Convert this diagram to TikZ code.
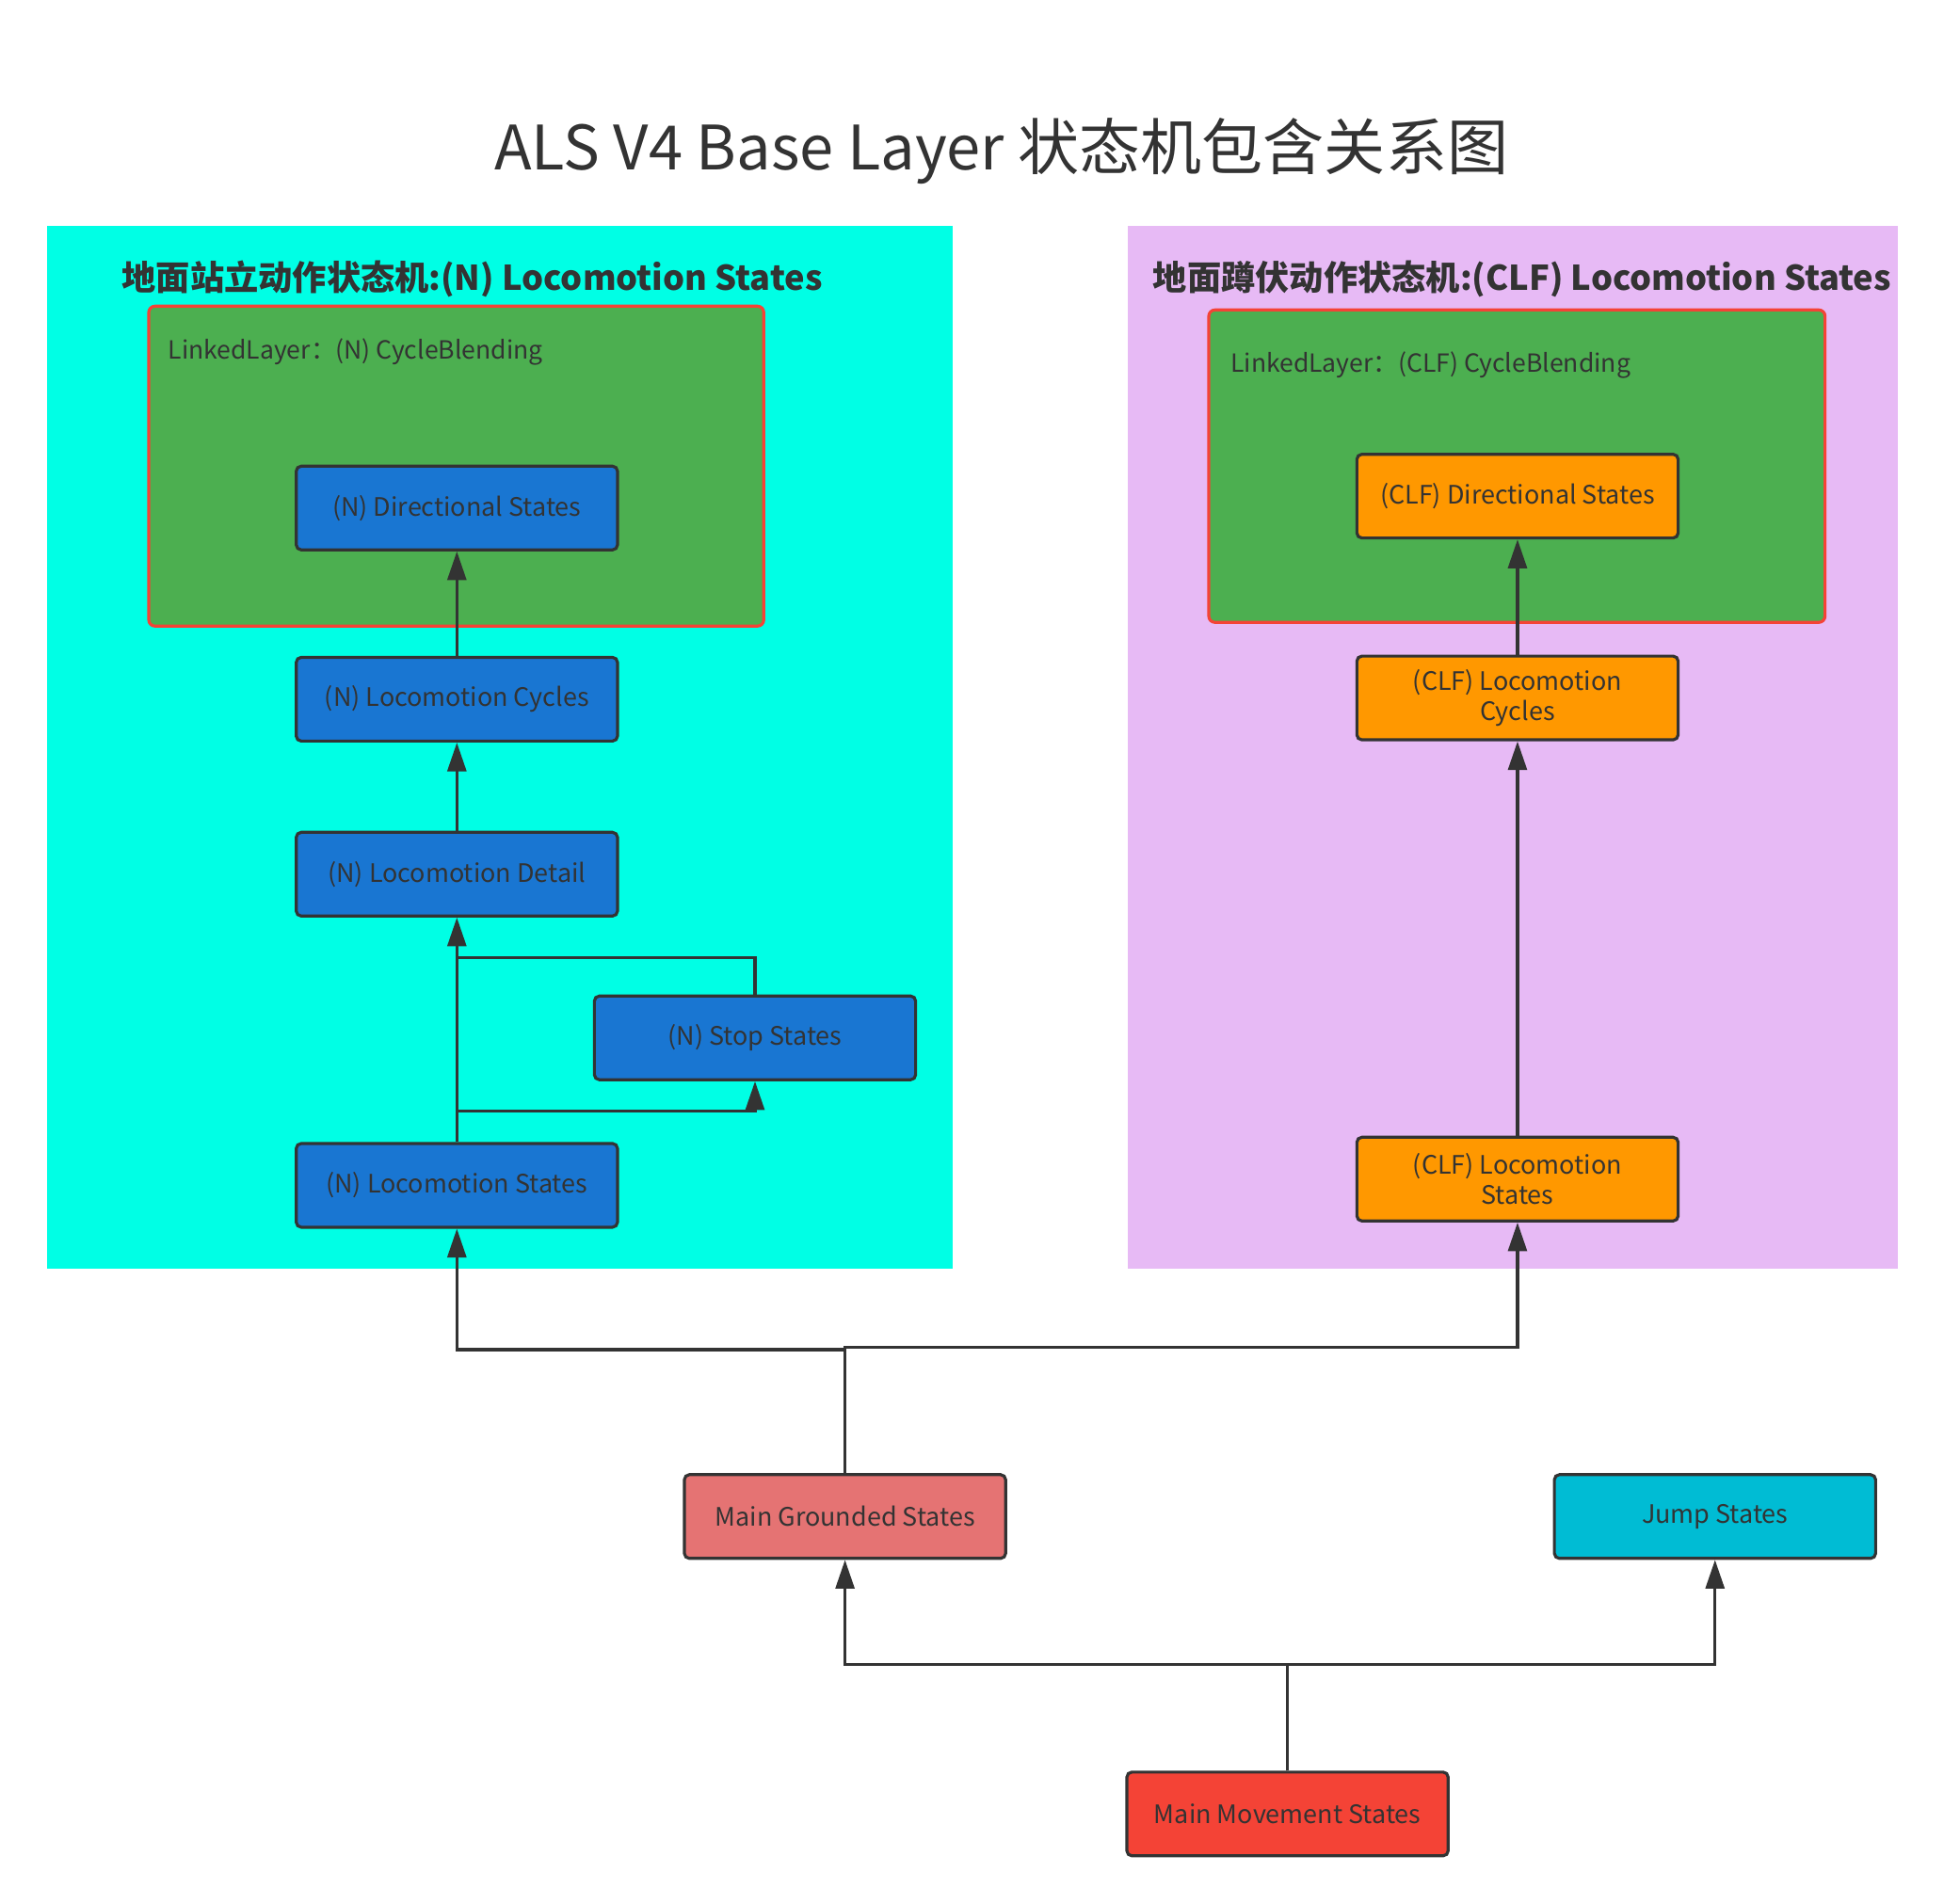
\documentclass[tikz,border=0pt]{standalone}
\usepackage{fontspec}
\setmainfont{Noto Sans CJK SC}
\usetikzlibrary{arrows.meta,positioning}

\definecolor{ink}{HTML}{333333}
\definecolor{aquabg}{RGB}{0,255,229}
\definecolor{lilacbg}{RGB}{231,186,245}
\definecolor{layergreen}{HTML}{4CAF50}
\definecolor{layerred}{HTML}{F44336}
\definecolor{stateblue}{HTML}{1976D2}
\definecolor{stateorange}{HTML}{FF9800}
\definecolor{groundpink}{HTML}{E57373}
\definecolor{jumpcyan}{HTML}{00BCD4}
\definecolor{movered}{HTML}{F44336}

\begin{document}
\begin{tikzpicture}[x=1pt,y=-1pt]

\tikzset{state/.style = {shape=rectangle,draw=ink,line width=2.4pt,rounded corners=4pt,
  minimum width=257pt,minimum height=67pt,inner sep=2pt,align=center,text=ink,
  font=\fontsize{20.3}{24}\selectfont}}
\tikzset{edge/.style = {-{Triangle[length=23pt,width=15pt]},draw=ink,line width=2.4pt}}
\tikzset{plain/.style = {draw=ink,line width=2.4pt}}
\tikzset{layer/.style = {draw=layerred,line width=2.4pt,fill=layergreen,rounded corners=5pt}}

\useasboundingbox (0,0) rectangle (1568,1523);
\fill[white] (0,0) rectangle (1568,1523);

% title
\node[text=ink,font=\fontsize{49}{56}\selectfont] (title) at (801,121) {ALS V4 Base Layer 状态机包含关系图};

% rectangle
\fill[aquabg] (38,181) rectangle (762,1015);
\fill[lilacbg] (902,181) rectangle (1518,1015);
\draw[layer] (119,245) rectangle (611,501);
\draw[layer] (967,248) rectangle (1460,498);

\node[anchor=west,text=ink,font=\bfseries\fontsize{27.3}{31}\selectfont] (ntitle) at (94,223) {地面站立动作状态机:(N) Locomotion States};
\node[anchor=west,text=ink,font=\bfseries\fontsize{27.3}{31}\selectfont] (ctitle) at (919,223) {地面蹲伏动作状态机:(CLF) Locomotion States};
\node[anchor=west,text=ink,font=\fontsize{20}{24}\selectfont] (nlink) at (131,282) {LinkedLayer：(N) CycleBlending};
\node[anchor=west,text=ink,font=\fontsize{20}{24}\selectfont] (clink) at (981,292) {LinkedLayer：(CLF) CycleBlending};

% vertices
\node[state,fill=stateblue] (ndir) at (365.5,406.5) {(N) Directional States};
\node[state,fill=stateblue] (ncyc) at (365.5,559.5) {(N) Locomotion Cycles};
\node[state,fill=stateblue] (ndet) at (365.5,699.5) {(N) Locomotion Detail};
\node[state,fill=stateblue] (nstop) at (604,830.5) {(N) Stop States};
\node[state,fill=stateblue] (nloc) at (365.5,948.5) {(N) Locomotion States};

\node[state,fill=stateorange] (cdir) at (1214,397) {(CLF) Directional States};
\node[state,fill=stateorange] (ccyc) at (1214,558.5) {(CLF) Locomotion\\Cycles};
\node[state,fill=stateorange] (cloc) at (1214,943.5) {(CLF) Locomotion\\States};

\node[state,fill=groundpink] (ground) at (676,1213.5) {Main Grounded States};
\node[state,fill=jumpcyan] (jump) at (1372,1213.5) {Jump States};
\node[state,fill=movered] (move) at (1030,1451.5) {Main Movement States};

%edges
\draw[edge] (ncyc) to (ndir);
\draw[edge] (ndet) to (ncyc);
\draw[edge] (nloc) to (ndet);
\draw[edge] (nloc.north) -- (nloc.north |- 0,889) -| (nstop.south);
\draw[plain] (nstop.north) |- (ndet.south |- 0,766);

\draw[edge] (cloc) to (ccyc);
\draw[edge] (ccyc) to (cdir);

\draw[edge] (ground.north) -- (ground.north |- 0,1080) -| (nloc.south);
\draw[edge] (ground.north) -- (ground.north |- 0,1078) -| (cloc.south);

\draw[edge] (move.north) -- (move.north |- 0,1332) -| (ground.south);
\draw[edge] (move.north) -- (move.north |- 0,1332) -| (jump.south);

\end{tikzpicture}
\end{document}
